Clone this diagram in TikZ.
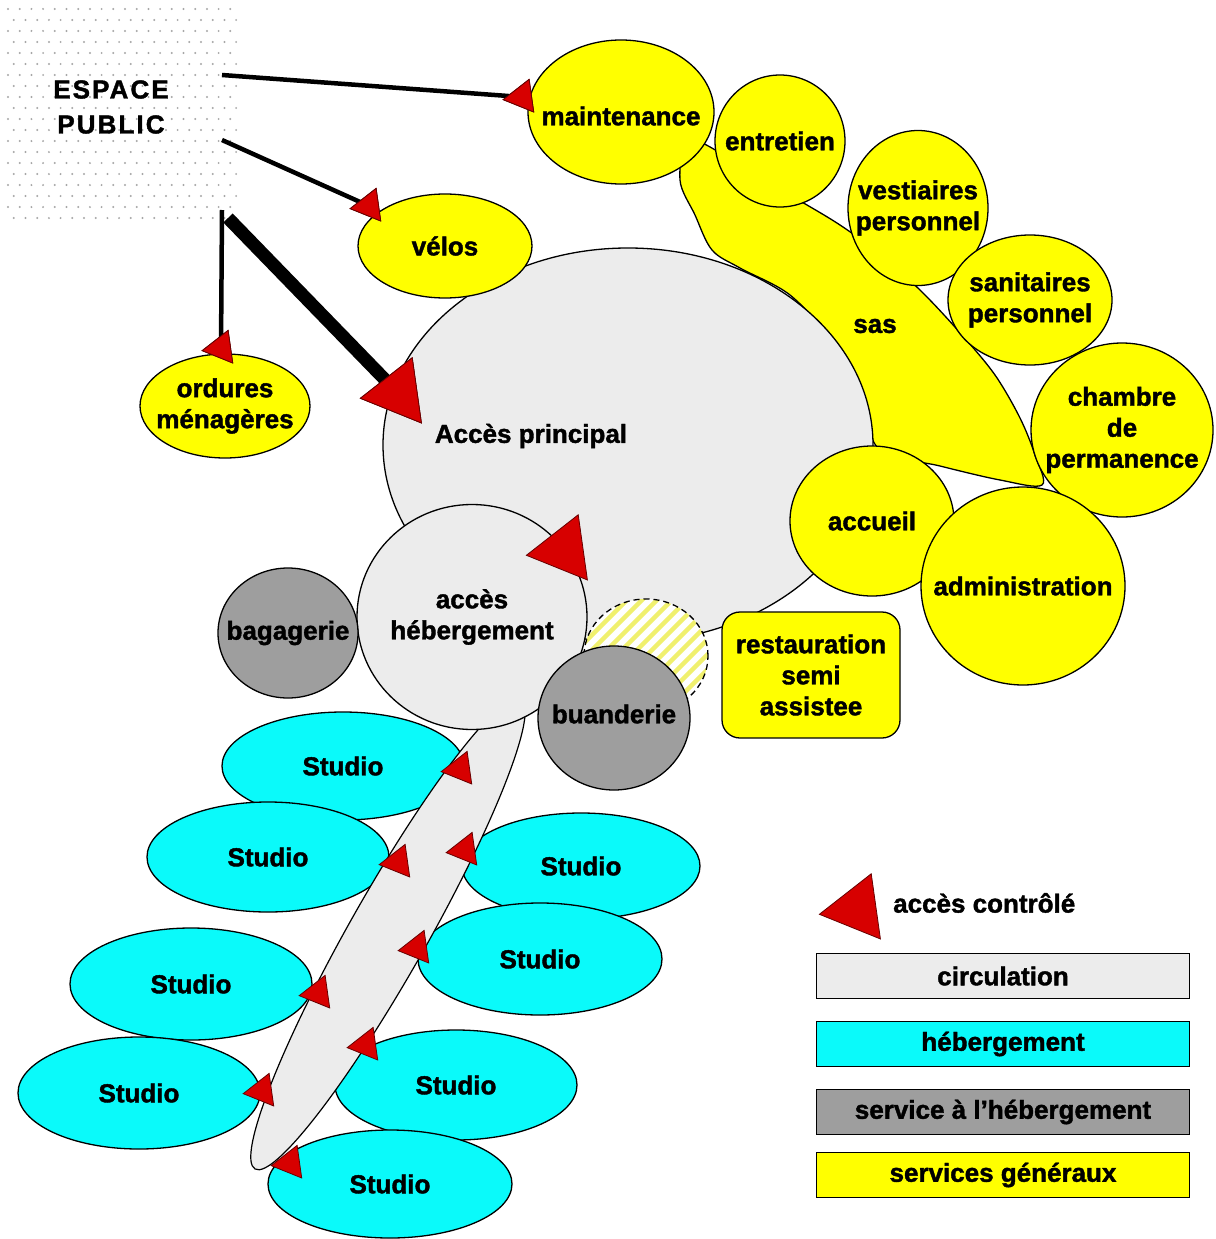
\documentclass[tikz,border=0pt]{standalone}
\usepackage{fontspec}
\setmainfont{Liberation Sans}[UprightFont=* Bold,BoldFont=* Bold,FakeBold=1.5]
\usetikzlibrary{shapes.geometric}
\definecolor{yel}{RGB}{255,255,0}
\definecolor{cya}{RGB}{10,250,250}
\definecolor{circ}{RGB}{236,236,236}
\definecolor{serv}{RGB}{158,158,158}
\definecolor{rd}{RGB}{215,0,0}
\definecolor{hat}{RGB}{240,240,110}
\begin{document}
\begin{tikzpicture}[x=1pt,y=-1pt,
  lbl/.style={font=\fontsize{26}{31}\selectfont,align=center,inner sep=0},
  zone/.style 2 args={ellipse,draw=black,line width=1.3pt,inner sep=0,minimum width=#1,minimum height=#2},
  acc/.style={regular polygon,regular polygon sides=3,fill=rd,draw=black!60!red,line width=0.8pt,inner sep=0,minimum size=#1,rotate=-22},
  acc/.default=38,
  legbox/.style={draw=black,line width=1.5pt,minimum width=373,minimum height=45,inner sep=0,lbl},
  link/.style={draw=black,line width=4.5pt}
]
\useasboundingbox (0,0) rectangle (1215,1239);
\fill[white] (0,0) rectangle (1215,1239);

% espace public
\node[minimum width=233,minimum height=215,inner sep=0] (ep) at (121.5,112.5) {};
\begin{scope}
\clip (5,5) rectangle (238,220);
\foreach \j in {0,...,19}{\foreach \i in {0,...,20}{
  \fill[gray!70] ({8+\i*11.7+mod(\j,2)*5.8},{9+\j*11}) circle (1.1);}}
\end{scope}
\node[lbl,font=\fontsize{26}{35}\selectfont\addfontfeatures{LetterSpace=8}] (ept) at (111,107) {ESPACE\\PUBLIC};
\coordinate (c1) at (222,75);
\coordinate (c2) at (222,140);
\coordinate (c3) at (222,210);
\coordinate (c4) at (228,218);

% sas
\draw[line width=1.3pt,fill=yel] plot[smooth cycle,tension=0.55] coordinates {
 (690,140) (740,165) (790,195) (840,225) (885,258) (925,295) (962,335)
 (995,375) (1020,418) (1035,455) (1042,485) (1000,480) (940,466) (880,450)
 (860,400) (830,340) (790,295) (740,268) (712,250) (695,215) (680,180)};
\node[lbl] (sas) at (875,326) {sas};

% acces principal
\node[zone={490}{394},fill=circ] (princ) at (628,445) {};
\node[lbl] (tprinc) at (531,436) {Accès principal};

% services generaux
\node[zone={186}{144},fill=yel,label={[lbl,yshift=-4pt]center:maintenance}] (maint) at (621,112) {};
\node[zone={130}{132},fill=yel,label={[lbl]center:entretien}] (entr) at (780,141) {};
\node[zone={140}{155},fill=yel,label={[lbl]center:{vestiaires\\personnel}}] (vest) at (918,208) {};
\node[zone={164}{130},fill=yel,label={[lbl]center:{sanitaires\\personnel}}] (sani) at (1030,300) {};
\node[zone={182}{174},fill=yel,label={[lbl]center:{chambre\\de\\permanence}}] (chamb) at (1122,430) {};
\node[zone={164}{150},fill=yel,label={[lbl]center:accueil}] (accu) at (872,521) {};
\node[zone={204}{198},fill=yel,label={[lbl]center:administration}] (admin) at (1023,586) {};
\node[zone={174}{104},fill=yel,label={[lbl]center:vélos}] (velos) at (445,246) {};
\node[zone={170}{104},fill=yel,label={[lbl]center:{ordures\\ménagères}}] (ord) at (225,406) {};
\node[draw=black,line width=1.3pt,rounded corners=18pt,fill=yel,minimum width=178,minimum height=126,lbl] (rest) at (811,675) {restauration\\semi\\assistee};

% hatched zone
\node[zone={124}{114},fill=white,dash pattern=on 6pt off 4pt,
  path picture={\foreach \k in {-6,...,6}{
    \draw[hat,solid,line width=4.5pt] ([xshift=\k*15pt]path picture bounding box.center) ++(-90,90) -- ++(180,-180);}}] (hatch) at (646,656) {};

% studios
\node[zone={242}{108},fill=cya,label={[lbl]center:Studio}] (s1) at (343,766) {};
\node[zone={242}{110},fill=cya,label={[lbl]center:Studio}] (s2) at (268,857) {};
\node[zone={238}{106},fill=cya,label={[lbl]center:Studio}] (s3) at (581,866) {};
\node[zone={244}{112},fill=cya,label={[lbl]center:Studio}] (s4) at (540,959) {};
\node[zone={242}{112},fill=cya,label={[lbl]center:Studio}] (s5) at (191,984) {};
\node[zone={242}{110},fill=cya,label={[lbl]center:Studio}] (s6) at (456,1085) {};
\node[zone={242}{112},fill=cya,label={[lbl]center:Studio}] (s7) at (139,1093) {};
\node[zone={244}{108},fill=cya,label={[lbl]center:Studio}] (s8) at (390,1184) {};

% corridor
\node[ellipse,draw=black,line width=1.2pt,fill=circ,minimum width=540,minimum height=78,inner sep=0,rotate=60.5] (corr) at (388,934) {};

% acces hebergement and services
\node[zone={230}{225},fill=circ,label={[lbl]center:{accès\\hébergement}}] (acch) at (472,617) {};
\node[zone={140}{130},fill=serv,label={[lbl]center:bagagerie}] (bag) at (288,633) {};
\node[zone={152}{144},fill=serv,label={[lbl,yshift=4pt]center:buanderie}] (buan) at (614,718) {};

% links
\node[acc] (m1) at (522,97) {};
\node[acc] (m2) at (369,206) {};
\node[acc] (m3) at (221,348) {};
\node[acc=76] (mp) at (398,393) {};
\draw[link] (c1) -- (m1.center);
\draw[link] (c2) -- (m2.center);
\draw[link] (c3) -- (m3.center);
\draw[link,line width=13pt] (c4) -- (mp.center);
\node[acc] at (m1) {};
\node[acc] at (m2) {};
\node[acc] at (m3) {};
\node[acc=76] at (mp) {};
\node[acc=76] (mh) at (564,550) {};

% studio access markers
\node[acc] (t1) at (460,769) {};
\node[acc] (t2) at (398,862) {};
\node[acc] (t3) at (465,850) {};
\node[acc] (t4) at (417,948) {};
\node[acc] (t5) at (318,993) {};
\node[acc] (t6) at (366,1045) {};
\node[acc] (t7) at (262,1091) {};
\node[acc] (t8) at (290,1163) {};

% legend
\node[acc=76] (lt) at (857,909) {};
\node[lbl,anchor=west] (ltx) at (893,903) {accès contrôlé};
\node[legbox,fill=circ] (l1) at (1003,976) {circulation};
\node[legbox,fill=cya] (l2) at (1003,1044) {hébergement};
\node[legbox,fill=serv] (l3) at (1003,1112) {service à l’hébergement};
\node[legbox,fill=yel] (l4) at (1003,1175) {services généraux};
\end{tikzpicture}
\end{document}
